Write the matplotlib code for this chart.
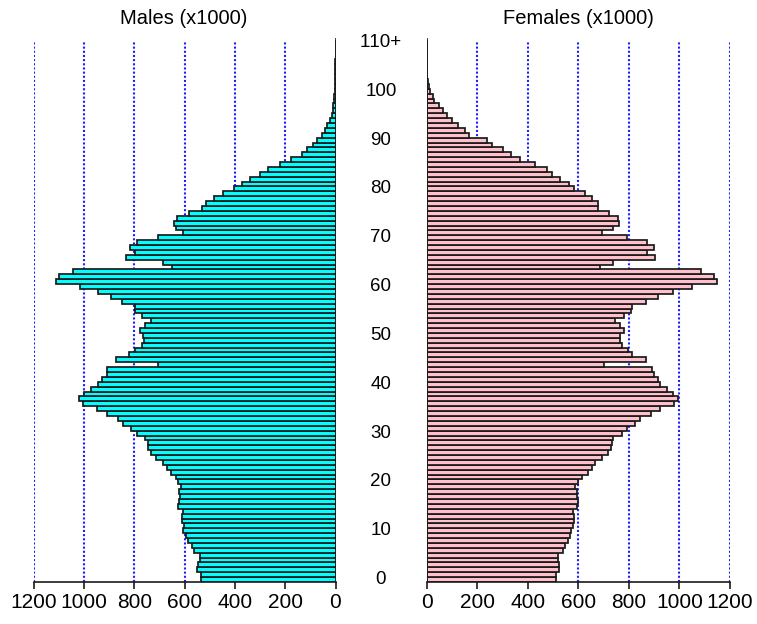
import matplotlib
matplotlib.use('Agg')
import matplotlib.pyplot as plt
from matplotlib.transforms import blended_transform_factory

plt.rcParams['font.family'] = ['Liberation Sans', 'DejaVu Sans']
plt.rcParams['text.kerning_factor'] = 10   # no pair kerning, like the R device
plt.rcParams['lines.scale_dashes'] = False

# population by single year of age (x1000), ages 0 .. 110
ages = list(range(111))
males = [536, 536, 552, 546, 541, 540, 563, 572, 589, 594,
         605, 601, 609, 609, 605, 627, 624, 620, 622, 613,
         626, 636, 653, 669, 686, 713, 736, 747, 747, 757,
         790, 813, 847, 865, 908, 950, 1004, 1021, 1000, 972,
         945, 928, 908, 908, 708, 875, 821, 799, 772, 763,
         768, 778, 757, 736, 772, 799, 799, 848, 892, 946,
         1016, 1112, 1102, 1043, 649, 686, 832, 799, 816, 789,
         708, 606, 636, 643, 632, 582, 533, 516, 485, 448,
         402, 371, 339, 302, 269, 220, 177, 134, 114, 90,
         74, 52, 42, 32, 22, 15, 11, 8, 6, 4,
         3, 2, 1, 0.5, 0.3, 0.2, 0.1, 0, 0, 0, 0]
females = [512, 513, 524, 524, 520, 520, 539, 547, 561, 566,
           572, 578, 583, 583, 579, 596, 600, 596, 593, 588,
           599, 616, 638, 653, 666, 695, 717, 728, 732, 738,
           771, 793, 824, 845, 888, 925, 979, 995, 973, 952,
           924, 914, 900, 893, 702, 867, 814, 797, 772, 764,
           765, 782, 765, 744, 780, 808, 814, 867, 914, 973,
           1048, 1149, 1137, 1086, 686, 738, 905, 873, 900, 873,
           792, 692, 738, 761, 755, 721, 679, 677, 653, 625,
           582, 562, 529, 496, 474, 427, 370, 333, 301, 258,
           237, 168, 150, 124, 102, 81, 66, 49, 29, 23,
           13, 9, 4, 3, 2, 1, 0.5, 0.3, 0.2, 0.1, 0.1]
age_ticks = [0, 10, 20, 30, 40, 50, 60, 70, 80, 90, 100, 110]
age_labels = ['0', '10', '20', '30', '40', '50', '60', '70', '80', '90', '100', '110+']
x_ticks = [0, 200, 400, 600, 800, 1000, 1200]

W, H = 757, 624
fig = plt.figure(figsize=(W / 100, H / 100), dpi=100)

y_bot, y_top = 582, 38
axL = fig.add_axes([34 / W, (H - y_bot) / H, 301.5 / W, (y_bot - y_top) / H])
axR = fig.add_axes([426.7 / W, (H - y_bot) / H, 303.3 / W, (y_bot - y_top) / H])


def draw_side(ax, values, color):
    # dotted blue reference lines behind the bars
    for g in x_ticks[1:]:
        ax.plot([g, g], [-0.5, 110.2], color='#2020ff', lw=1.5,
                linestyle=(0, (1.5, 1.5)), zorder=0)
    ax.barh(ages, values, height=1.0, color=color, edgecolor='#1a1a1a',
            linewidth=1.25, zorder=2)
    ax.axvline(0, color='#1a1a1a', lw=1.2, zorder=3)
    ax.set_xlim(0, 1200)
    ax.set_ylim(-0.5, 110.9)
    for s in ['top', 'left', 'right']:
        ax.spines[s].set_visible(False)
    ax.spines['bottom'].set_color('#1a1a1a')
    ax.spines['bottom'].set_linewidth(1.2)
    ax.set_yticks([])
    ax.set_xticks(x_ticks)
    ax.tick_params(axis='x', direction='out', length=5, width=1.2,
                   labelsize=15, pad=3, color='#1a1a1a')


draw_side(axL, males, '#00ffff')
axL.invert_xaxis()
draw_side(axR, females, '#ffc0cb')

tr = blended_transform_factory(fig.transFigure, axL.transData)
for a, lab in zip(age_ticks, age_labels):
    fig.text(381 / W, a, lab, transform=tr, ha='center', va='center', fontsize=13.5)

fig.text(184 / W, 1 - 19 / H, 'Males (x1000)', ha='center', va='center', fontsize=14.5)
fig.text(578 / W, 1 - 19 / H, 'Females (x1000)', ha='center', va='center', fontsize=14.5)

fig.savefig('out.png', dpi=100)
